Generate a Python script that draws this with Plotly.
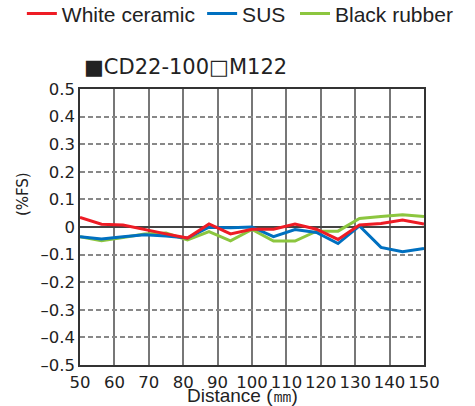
import plotly.graph_objects as go

distance = [50, 56.25, 62.5, 68.75, 75, 81.25, 87.5, 93.75, 100, 106.25,
            112.5, 118.75, 125, 131.25, 137.5, 143.75, 150]
white_ceramic = [0.035, 0.010, 0.007, -0.010, -0.025, -0.040, 0.011, -0.025, -0.008,
                 -0.008, 0.011, -0.008, -0.045, 0.007, 0.013, 0.025, 0.011]
sus = [-0.035, -0.043, -0.035, -0.028, -0.033, -0.040, -0.001, -0.003, 0.0,
       -0.035, -0.009, -0.020, -0.060, 0.004, -0.074, -0.090, -0.078]
black_rubber = [-0.035, -0.050, -0.038, -0.025, -0.022, -0.047, -0.017, -0.050, -0.009,
                -0.051, -0.051, -0.015, -0.015, 0.031, 0.038, 0.044, 0.038]

x_ticks = [50, 60, 70, 80, 90, 100, 110, 120, 130, 140, 150]
y_ticks = [0.5, 0.4, 0.3, 0.2, 0.1, 0, -0.1, -0.2, -0.3, -0.4, -0.5]
y_tick_text = ["0.5", "0.4", "0.3", "0.2", "0.1", "0", "–0.1", "–0.2", "–0.3", "–0.4", "–0.5"]

# drawn green first, red last (red on top); each has its own legend box
series = [
    ("Black rubber", black_rubber, "#8cc63f", "legend3"),
    ("SUS", sus, "#0070c0", "legend2"),
    ("White ceramic", white_ceramic, "#ee1c25", "legend"),
]

fig = go.Figure()
for name, vals, color, leg in series:
    fig.add_trace(go.Scatter(x=distance, y=vals, mode="lines", name=name,
                             line=dict(color=color, width=3), legend=leg))

tick_font = dict(family="DejaVu Sans", size=16.5, color="#222")
legend_font = dict(family="Liberation Sans", size=21, color="#222")


def legend_box(xpos):
    return dict(orientation="h", x=xpos, xanchor="left", y=1.272, yanchor="middle",
                font=legend_font, itemwidth=30, bgcolor="rgba(0,0,0,0)", borderwidth=0)


fig.update_layout(
    width=475, height=406,
    margin=dict(l=80, r=51, t=89, b=41, autoexpand=False),
    plot_bgcolor="white", paper_bgcolor="white",
    showlegend=True,
    legend=legend_box(-0.169),
    legend2=legend_box(0.355),
    legend3=legend_box(0.625),
    xaxis=dict(range=[50, 150], tickvals=x_ticks, showgrid=True, gridcolor="#777",
               gridwidth=1.5, zeroline=False, showline=True, linecolor="#333",
               linewidth=1.5, mirror=True, ticks="", tickfont=tick_font, tickangle=0,
               ticklabelstandoff=1),
    yaxis=dict(range=[-0.5, 0.5], tickvals=y_ticks, ticktext=y_tick_text, showgrid=True,
               gridcolor="#888", gridwidth=1.5, griddash="5px,3px", zeroline=True,
               zerolinecolor="#444", zerolinewidth=1.5, showline=True, linecolor="#333",
               linewidth=1.5, mirror=True, ticks="", tickfont=tick_font, ticklabelstandoff=0),
    annotations=[
        dict(text="■CD22-100□M122", x=0.005, y=1.078, xref="paper", yref="paper",
             xanchor="left", yanchor="middle", showarrow=False,
             font=dict(family="DejaVu Sans", size=21, color="#222")),
        dict(text="(%FS)", x=-0.165, y=0.62, xref="paper", yref="paper", textangle=-90,
             xanchor="center", yanchor="middle", showarrow=False,
             font=dict(family="DejaVu Sans", size=15, color="#222")),
        dict(text="Distance (㎜)", x=0.473, y=-0.112, xref="paper", yref="paper",
             xanchor="center", yanchor="middle", showarrow=False,
             font=dict(family="Liberation Sans", size=19, color="#222")),
    ],
)

fig.write_html("out.html", config={"displayModeBar": False},
               post_script="document.body.style.margin='0';document.body.style.padding='0';")
